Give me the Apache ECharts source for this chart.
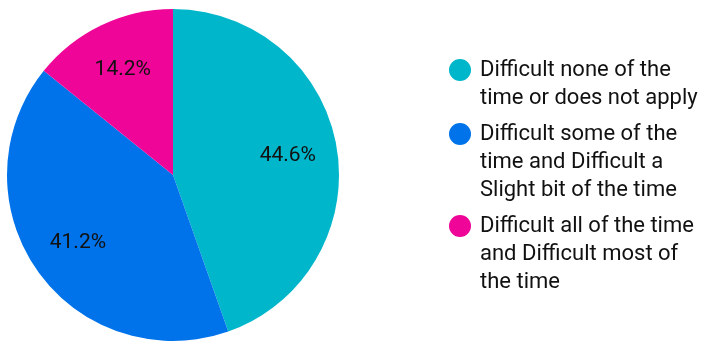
<!DOCTYPE html>
<html>
<head>
<meta charset="utf-8">
<script src="https://cdn.jsdelivr.net/npm/echarts@6/dist/echarts.min.js"></script>
<style>
  html, body { margin: 0; padding: 0; background: #fff; }
  #chart { width: 709px; height: 344px; }
</style>
</head>
<body>
<div id="chart"></div>
<script>
// Response categories (legend text uses explicit line breaks)
const categories = [
  'Difficult none of the time or does not apply',
  'Difficult some of the time and Difficult a Slight bit of the time',
  'Difficult all of the time and Difficult most of the time'
];
const legendLines = [
  ['Difficult none of the', 'time or does not apply'],
  ['Difficult some of the', 'time and Difficult a', 'Slight bit of the time'],
  ['Difficult all of the time', 'and Difficult most of', 'the time']
];
// Share of respondents, percent
const shares = [44.6, 41.2, 14.2];
const colors = ['#00B6CB', '#0073EB', '#EF0598'];

const LINE_H = 28;
const pieData = categories.map((name, i) => ({ name, value: shares[i] }));

// Leading blank lines keep the first text line level with the marker,
// since legend text is centred vertically on its icon.
function legendText(name) {
  const lines = legendLines[categories.indexOf(name)];
  return '\n'.repeat(lines.length - 1) + lines.join('\n');
}

const chart = echarts.init(document.getElementById('chart'));
chart.setOption({
  animation: false,
  color: colors,
  textStyle: { fontFamily: 'Roboto' },
  legend: {
    orient: 'vertical',
    left: 449,
    top: 28,
    padding: 0,
    itemGap: -48,
    itemWidth: 22,
    itemHeight: 22,
    icon: 'circle',
    selectedMode: false,
    textStyle: { fontSize: 22, lineHeight: LINE_H, color: '#111', padding: [0, 0, 0, 4] },
    data: categories,
    formatter: legendText
  },
  series: [
    {
      type: 'pie',
      center: [173, 175],
      radius: [0, 166],
      startAngle: 90,
      clockwise: true,
      silent: true,
      label: { show: false },
      labelLine: { show: false },
      data: pieData
    },
    {
      // transparent ring that carries the percentage labels
      type: 'pie',
      center: [173, 175],
      radius: [61, 166],
      startAngle: 90,
      clockwise: true,
      silent: true,
      itemStyle: { color: 'rgba(0,0,0,0)' },
      label: {
        show: true,
        position: 'inner',
        formatter: p => p.value.toFixed(1) + '%',
        fontSize: 21,
        color: '#111'
      },
      labelLine: { show: false },
      data: pieData
    }
  ]
});
</script>
</body>
</html>
